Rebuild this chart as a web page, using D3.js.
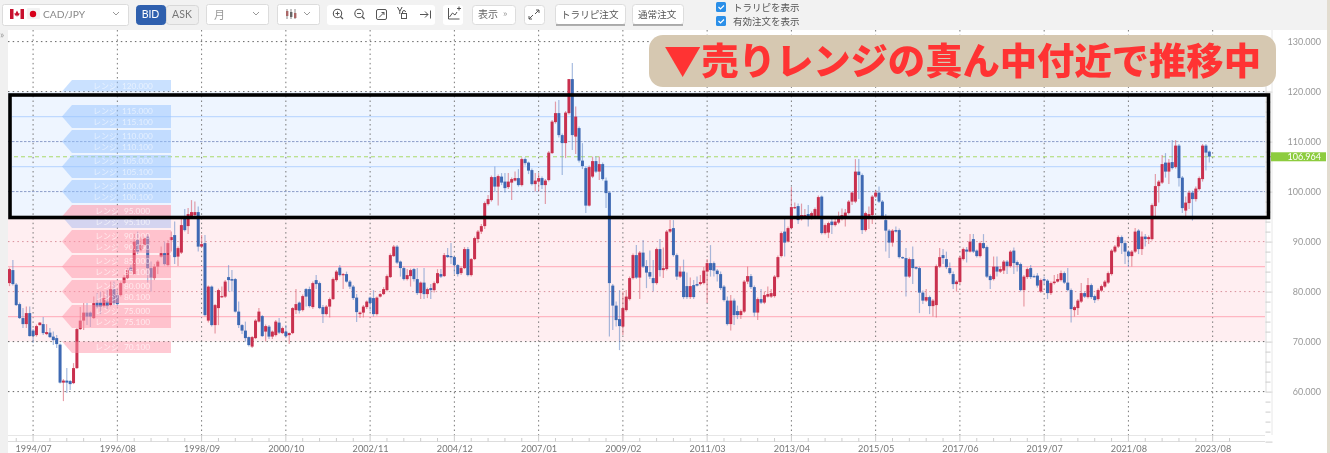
<!DOCTYPE html>
<html><head><meta charset="utf-8">
<script src="https://cdn.jsdelivr.net/npm/d3@7"></script>
<style>html,body{margin:0;padding:0;background:#fff;overflow:hidden}svg{display:block;filter:blur(.35px)}</style>
</head><body><svg id="c" width="1330" height="453"></svg>
<script>
const opens=[81.7,84.3,81.4,77.5,74.7,73.5,75.7,72.2,71.3,73.3,73.5,71.5,71.8,71,70.7,69.4,61.8,62.2,62.1,61.7,
64.7,72.5,74.2,75.8,75.8,74.7,77.8,77.8,77.1,78,77.3,80.5,79.3,79.3,81.7,82.7,84.8,83.5,90.3,88.3,
89.3,91,84.7,82.7,85,87,87.7,85.3,90.3,91.3,87,87.8,95,93.1,95,95.3,95.9,89,89.7,74.2,
81,73.3,76.7,78.9,79,82.9,82.5,82.5,76,73.3,72.2,70.9,69,70.7,74,75.1,72,73,71,71.3,
73.8,71.7,72,71.3,71.7,76.3,77.8,76.3,80.5,80.5,76.9,82.3,81.7,76.9,75.5,77,78.5,82.3,84.8,83.3,
83.5,82,81,78.8,75.5,75.8,76.9,78.8,78.7,75.5,79,79.5,80.3,82.9,87.1,89,86,84.7,82.5,83.1,
84.5,82.5,79.7,81.8,79.5,80.7,80.3,81.7,83.5,83.1,87.3,87.1,86.9,85.3,83.7,84.7,88.5,83.3,86.5,90.5,
92,93.1,97.5,98.3,102.9,101,103,102,100.9,101.8,102.2,102.7,101.3,106.5,105.8,104.3,101.5,102,102.7,101.3,
102.3,107.7,113.9,115.7,111.3,109.7,115.7,122.5,111,112.7,106.2,104.7,97.2,103,106.1,104,105.5,102.2,99.8,81.2,
77.2,74.5,73,76.3,78.5,82.7,87.3,82.8,87.8,85.1,83.9,82.7,81.7,88.5,84.3,84.5,92,92.7,87.3,83,
84,81.1,78.9,81.3,81.5,81.5,81.7,84,85.7,85.7,84.2,83.5,81,78.2,73.5,78.2,76.1,75.3,76,82,
83.1,80.9,75.8,78.5,77.8,79,79,79.1,82.9,87.1,92,90,92.7,96.7,97.1,94.5,94.9,95.5,94.7,95,
95,99,91.7,91.8,94,93.3,93.8,94.5,95,95.7,98,98,104,103.3,92.3,95,95.3,99,99.8,98,
94.3,92.2,89.8,92.3,92.3,86.9,86.7,83,86.5,84.9,84.7,79.8,78.2,78.9,77.1,77.3,85,87.3,86.5,84.7,
83.5,81.5,81.9,86.5,88.4,88,90.5,88.2,87.1,89.7,88.9,83.1,82.5,85,84,84.2,86,85.1,88.2,85.9,
85.5,80.3,82.9,84.7,83.1,83.2,80,82.5,82.2,79.7,81.7,82,82.3,83.7,81.8,80.3,76.3,76.7,78,79.7,
78.9,81.3,79.1,78.5,80.2,81,81.8,83.5,88,89,90.9,89.7,88,87.1,88,92.2,88.5,91,90.5,90.5,
97.1,101.1,101.8,105.8,104,105.9,104.9,109.2,102.8,96.2,97.7,99.8,98.5,100.5,102.5,109.2,108];
const highs=[84.8,86.3,81.7,77.8,76.7,77,77,72.5,73.4,73.9,74.9,73.5,72.7,72,71.3,69.6,62.5,64.7,62.3,65.7,
72.7,76.9,77.7,77.7,76,79,79.7,80,80,80.3,82,82,80.5,82,83.3,84.7,85.3,91.5,92,91,
91,91.5,86,85.5,86.3,89,90,90.3,92,94,89,95,96.5,96.7,98.3,98,97,91.3,91.3,81.2,
81.2,77.5,80.6,81,82.3,85.3,84.3,82.7,78,73.5,74,71,71.1,74.5,76.7,75.3,73.4,73.3,72.2,74.3,
74.7,73,73.3,71.8,76.9,80.5,78,79.4,80.7,81,82,83.3,82,77.3,77.3,78.8,82.8,84.3,85.3,83.7,
84,82.3,81.3,79.5,76,77.3,78.2,79,80.3,79,79.7,80.9,83.4,87.6,89.3,89.3,86.2,85,84.5,84.6,
84.7,84.7,82,84.7,80.8,81.5,82,84.5,84.5,87.7,88.7,89.7,87.1,85.5,85,88.9,88.9,86.7,91,92.3,
93.5,98,99.3,103.2,105,103.4,103.7,103.7,103.7,102.8,104,104.5,106.8,106.8,106,104.6,103.7,103.7,103,102.5,
108.1,114.3,118,118.3,111.6,116.1,122.5,125.7,117,113,109.7,105,105.2,107,107,107,105.8,102.8,100,81.5,
78,80.3,80,80.3,83,87.6,89.3,88.1,90.3,86.3,88.2,86.3,88.8,90.5,88.8,92.3,94.3,94.3,87.6,85,
86.4,83.8,82.8,82.3,83,83.3,84.9,86.5,89.3,86,84.5,84,81.3,79,79.3,78.6,77.2,76.4,82.3,85,
83.5,81.2,78.8,80.5,80,81,80.5,83.3,87.2,92,95,93,100.9,97.8,97.6,97.6,96.5,97.3,96,96.8,
99.2,99.2,93.6,94,95,95,96,96.6,96.5,98.3,100,106.5,106.5,103.6,96,97,99.3,100.3,101,98.3,
95.5,92.5,92.5,93,92.6,87,88.7,86.8,89,85,85,80.2,80.5,79.2,78.5,85.4,88.7,88.5,88,85.8,
84,82.3,87.1,88.8,88.9,91.5,91.5,88.4,90,91.5,89.2,83.4,87,87,85,86.3,86.3,88.3,88.8,86.2,
85.8,83.3,84.8,85.3,83.4,83.7,82.6,83,82.5,82,83.3,83.5,84.2,84,84.7,80.6,77.2,78.5,81.7,80,
82.7,81.6,79.4,80.6,81.4,82.3,84,88.5,89.3,91.2,91.2,90.2,88.3,88.3,92.7,92.5,92,91.5,91.2,97.6,
103.5,102.3,107.3,107.7,106.5,110.3,110.3,109.5,103.1,99,100.2,100.2,101,103,109.5,109.5,108.2];
const lows=[81.1,81.2,77.1,74.5,72.7,72.7,71,69.7,71,73.2,71.3,71.3,70.7,69.3,68.7,61.6,58.1,59.7,60.3,61.5,
64.5,72.3,72.3,73.3,72.9,74.5,76.5,75.5,76.8,76.5,77,77.3,77,79,81.5,82.5,84,83.3,87.5,88,
88.9,81.8,80,82.3,83.5,86.8,85.2,85,88,85.5,85.1,87.5,92,91.5,94.7,95,88,89,75,73.8,
73,71.6,73.3,78.7,78.7,80,80,75.8,72.7,71.5,70,69,68.7,70.5,73.8,70.9,70,70.5,70.5,71,
71.5,71.5,70.7,69.5,71.5,75.5,75.6,76,77,76.8,76.5,80.5,76.5,73.7,75.2,74.8,78.3,82,83,80.5,
81.8,80.5,78.3,73.9,74.7,74.8,76.5,76,75,75.2,78.8,79.3,80,82.7,86.9,85.5,83,82.2,82.2,81,
82,79.3,78.5,78.5,78.7,78.5,79.8,81.5,82.7,82.9,86.7,85.5,83.5,83,83.3,84.5,83,83,86.3,89.7,
91.5,92.5,97.2,98,100,97.2,101.3,99.8,100.5,98.3,102,101,101,105.2,103.5,101.2,100,100,100.5,97.5,
102,107.5,113.6,110.8,103.3,106.7,115.4,108.3,107.5,105.8,104.5,95.7,97,102.7,103.7,102.3,102.2,96.7,71,72.3,
73,68.3,71.3,76,78.2,82.4,82.5,78.5,84.7,80.7,82.5,80,81.4,83,82.7,84.2,91.7,87,82.3,82.7,
78.5,78.5,78.5,78.5,81,81.2,81.4,77.7,83,83,82,80.3,78,73.2,72.2,73.3,74.5,74.5,75.7,81.5,
80.5,75,74.3,77.5,77.5,78.8,78.7,78.8,82.6,86.8,87,89.8,92.4,96.5,93.5,94.2,94.5,93,94.4,94.7,
94.7,91.4,91.4,90.7,91.5,93,93.5,94.2,93,95.4,97.3,97.7,98.5,91.5,92,92.5,93.5,98.7,97.7,94.7,
88,86.7,89,91.8,86.6,86.5,79,82.7,81.5,84.4,75.7,77.5,77.9,75.5,75,74.8,84.7,85.5,84.5,83.4,
80.5,80,81.5,86.2,85.8,87.8,87.7,86.8,86.8,88.5,82.7,80.5,82.2,83,83.7,83.5,83.5,84.8,83.5,84,
80,77,82.5,82.5,82.8,80.8,79.7,81.5,78.5,79.3,81.4,81.8,82,81.5,80,73.8,75,75.3,77.7,78.7,
78.6,78.5,77.7,78.2,79.9,80.7,81.5,83.2,87.7,88.7,87.5,85.5,84.9,85,87.7,87.5,87.3,89,89.5,90.2,
95,97.8,101.5,102.8,101.5,104.4,104.6,101,95.7,95,96.5,94.2,98,100.2,102,104.2,105.8];
const closes=[84.5,81.5,77.3,74.7,73.5,75.7,71.1,71.1,73.1,73.8,71.7,71.9,70.9,70.3,69.5,61.8,62.2,61.8,61.5,64.7,
72.5,74.2,75.8,75,75,77.7,77,77,78.7,77.1,80.5,77.7,77.5,81.7,82.9,84.3,84.2,90,88,89.3,
90.7,84.7,82.8,85,86,87.7,85.5,89.7,90.9,86.9,88.7,93.3,92.3,95.5,95.9,95.9,89,89.5,75.3,81,
73.3,77.3,80.3,79.1,82,82.3,82.2,76,73.3,72.2,70.7,69.3,70.9,74.2,76,71.1,73.1,71,72,74,
71.8,72.7,71.1,71.7,76.7,77.5,76.2,79.1,79,77.1,81.7,81.5,76.7,75.5,77,78.5,82.5,84,83.3,83.5,
82,81,78.7,75.9,75.8,77,78,77.7,75.5,78.8,79.5,80.5,83.1,87.3,89,85.8,84.7,82.5,83.3,84.3,
82.5,79.7,81.8,79.5,80.5,80.3,81.7,83.7,83,87.3,86.9,86.9,85.3,83.5,84.7,88.5,83.3,86.5,90.7,92,
93.1,97.7,98.5,102.9,101,103.1,101.8,100.7,102,102.5,102.7,101.3,106.5,105.7,104.2,101.5,102.2,102.7,101.3,102.2,
107.8,114,115.7,111.3,109.7,115.8,122.5,111.3,115,106.2,105.1,97.2,104.9,106.1,104,105.5,102.5,99.7,81.7,77.2,
74.3,73.1,76.7,79,82.7,87.3,82.8,87.8,85,83.8,83,81.7,88.5,84.3,84.7,92,92.5,87.3,83,84,
78.9,78.9,81.1,78.9,81.2,81.9,84.2,85.7,84.3,84.2,83.5,80.7,78.3,73.5,78.2,75.3,75.3,76.1,82,83.1,
80.9,75.8,78.5,77.8,79.3,79.5,79.7,83,86.9,91.7,89.8,92.7,96.9,96.9,94.3,95.3,95.3,94.5,95.7,96.5,
98.9,91.7,93.3,93.7,93.3,94,94.7,95.3,95.8,98,99.8,104,103.3,92.3,95.7,95.5,99,99.8,98,95,
92.2,89.8,92.2,92,86.9,86.7,83,86.5,84.7,84.6,79.8,78.2,78.9,77.1,78.2,85.1,86.9,86.7,84.9,83.7,
81.5,82,86.8,88.5,88,90,88,87.1,89.7,88.7,83,82.3,85,84,84.5,86,85.1,88,85.7,85.3,
80.3,83,84.5,82.9,83,81.2,82.3,82.2,79.7,81.7,82,82.5,83.7,81.8,80.3,76.5,76.9,78.2,79.7,79,
81.3,78.9,78.3,80.3,81.1,82,83.7,88.2,89,90.9,89.7,88,87.1,88,92,88.5,91,90.5,90.9,97.3,
101.1,102,105.5,104,105.8,104.7,109.2,102.7,96.7,97.8,99.8,98.5,100.6,102.7,109.2,107.8,107];

const tickLabels=["1994/07","1996/08","1998/09","2000/10","2002/11","2004/12","2007/01","2009/02","2011/03","2013/04","2015/05","2017/06","2019/07","2021/08","2023/08"];
const tickBars=[7,32,57,82,107,132,157,182,207,232,257,282,307,332,357];
const priceTicks=[130,120,110,100,90,80,70,60];
const solidBlue=[115,105], solidPink=[85,75];
const blueTags=[["120.000"],["115.000","115.100"],["110.000","110.100"],["105.000","105.100"],["100.000","100.100"]];
const pinkTags=[["90.000","90.100"],["85.000","85.100"],["80.000","80.100"],["75.000","75.100"]];
const tagLevels={blue:[120,115,110,105,100],pink:[90,85,80,75]};
const lastPrice=106.964;
const title="▼売りレンジの真ん中付近で推移中";

const svg=d3.select("#c");
const LAT="Lato,'Noto Sans CJK JP',sans-serif", JP="'Noto Sans CJK JP',sans-serif";
const x=d3.scaleLinear().domain([0,356]).range([9.5,1209.3]);
const y=d3.scaleLinear().domain([130,60]).range([41.6,391.6]);
const L=8,R=1265,T=30,B=435;

// page furniture
svg.append("rect").attr("width",1330).attr("height",453).attr("fill","#fff");
svg.append("rect").attr("width",1330).attr("height",30).attr("fill","#f2f2f2");
svg.append("rect").attr("y",30).attr("width",8).attr("height",423).attr("fill","#f0f0f0");
svg.append("rect").attr("x",1327).attr("y",0).attr("width",3).attr("height",453).attr("fill","#e2dccf");
svg.append("text").attr("x",0).attr("y",38).attr("font-size",10).attr("fill","#999").attr("font-family",LAT).text("»");

// zones
svg.append("rect").attr("x",L).attr("y",y(120)).attr("width",R-L).attr("height",y(95)-y(120)).attr("fill","#eef5ff");
svg.append("rect").attr("x",L).attr("y",y(95)).attr("width",R-L).attr("height",y(70)-y(95)).attr("fill","#ffeef1");

// grid
const g=svg.append("g");
g.selectAll(".v").data(tickBars).join("line").attr("x1",d=>x(d)).attr("x2",d=>x(d)).attr("y1",T).attr("y2",B)
 .attr("stroke","#777").attr("stroke-dasharray","1.5 3.2").attr("stroke-width",1);
g.selectAll(".h").data(priceTicks).join("line").attr("x1",L).attr("x2",R).attr("y1",d=>y(d)).attr("y2",d=>y(d))
 .attr("stroke",d=>(d==110||d==100)?"#8a9cc8":(d==90||d==80)?"#d88f9a":"#666")
 .attr("stroke-dasharray",d=>(d==110||d==100)?"2.5 1.5":"1.5 3.2").attr("stroke-width",1);
g.selectAll(".b").data(solidBlue).join("line").attr("x1",12).attr("x2",R).attr("y1",d=>y(d)).attr("y2",d=>y(d)).attr("stroke","#bfd9ff").attr("stroke-width",1.2);
g.selectAll(".p").data(solidPink).join("line").attr("x1",L).attr("x2",R).attr("y1",d=>y(d)).attr("y2",d=>y(d)).attr("stroke","#ffb6c2").attr("stroke-width",1.2);
g.append("line").attr("x1",14).attr("x2",1272).attr("y1",y(lastPrice)).attr("y2",y(lastPrice)).attr("stroke","#a9d96a").attr("stroke-dasharray","4 3").attr("stroke-width",1);

// candles
const idx=d3.range(opens.length), up=i=>closes[i]>=opens[i];
const RED="#c9304e",BLUE="#3e69b3";
svg.append("g").selectAll("line").data(idx).join("line")
 .attr("x1",x).attr("x2",x).attr("y1",i=>y(highs[i])).attr("y2",i=>y(lows[i]))
 .attr("stroke",i=>up(i)?"#d9606f":"#6d8fc9").attr("stroke-opacity",.6).attr("stroke-width",1.2);
svg.append("g").selectAll("rect").data(idx).join("rect")
 .attr("x",i=>x(i)-1.5).attr("width",3)
 .attr("y",i=>y(Math.max(opens[i],closes[i])))
 .attr("height",i=>Math.max(1.2,Math.abs(y(opens[i])-y(closes[i]))))
 .attr("fill",i=>up(i)?RED:BLUE);

// range tags
const TL=62,TN=72,TR=171;
function tagText(v,ty,nx,vx,tc){
 svg.append("text").attr("x",nx).attr("y",ty).attr("font-size",8).attr("fill",tc).attr("font-family",JP).text("レンジ");
 svg.append("text").attr("x",vx).attr("y",ty).attr("font-size",8.3).attr("fill",tc).attr("font-family",LAT).text(v);
}
function tag(level,vals,fill,tc,vx){
 const c=y(level);
 const pts=vals.length==2
  ?[[TL,c],[TN,c-11.5],[TR,c-11.5],[TR,c+11.5],[TN,c+11.5]]
  :[[TL,c],[TN,c-11.5],[TR,c-11.5],[TR,c]];
 svg.append("polygon").attr("points",pts.join(" ")).attr("fill",fill);
 vals.forEach((v,k)=>tagText(v,c+(k==0?-5.8:5.8)+3,vx==122?93:95,vx,tc));
}
const BF="rgba(150,195,255,.5)",PF="rgba(255,150,170,.5)",BT="rgba(255,255,255,.55)",PT="rgba(255,255,255,.65)";
blueTags.forEach((v,k)=>tag(tagLevels.blue[k],v,BF,BT,122));
pinkTags.forEach((v,k)=>tag(tagLevels.pink[k],v,PF,PT,124));
svg.append("polygon").attr("points",[[TL,y(95)],[TN,y(95)-11.5],[TR,y(95)-11.5],[TR,y(95)]].join(" ")).attr("fill","rgba(255,140,160,.5)");
svg.append("polygon").attr("points",[[TL,y(95)],[TR,y(95)],[TR,y(95)+11.5],[TN,y(95)+11.5]].join(" ")).attr("fill","rgba(170,185,240,.5)");
[["95.000",-5.8],["95.100",5.8]].forEach(([v,d])=>tagText(v,y(95)+d+3,95,124,PT));
svg.append("polygon").attr("points",[[TL,y(70)],[TR,y(70)],[TR,y(70)+11.5],[TN,y(70)+11.5]].join(" ")).attr("fill",PF);
tagText("70.100",y(70)+8.8,95,124,PT);

// axes
const yAxis=d3.axisRight(y).tickValues(d3.range(50,132,2)).tickSize(0).tickFormat("");
const ya=svg.append("g").attr("transform",`translate(1265.5,0)`).call(yAxis);
ya.select(".domain").attr("stroke","#ddd");
ya.selectAll("line").attr("x2",d=>d%10==0?7:5).attr("stroke","#ccc");
svg.append("line").attr("x1",1272).attr("x2",1272).attr("y1",T).attr("y2",B).attr("stroke","#e8e8e8");
svg.append("g").selectAll("text").data(priceTicks).join("text")
 .attr("x",1321).attr("y",d=>y(d)+3.2).attr("text-anchor","end").attr("font-size",9).attr("fill","#999").attr("font-family",LAT).text(d=>d.toFixed(3));
svg.append("line").attr("x1",L).attr("x2",R).attr("y1",435.5).attr("y2",435.5).attr("stroke","#e6e6e6");

const xAxis=d3.axisBottom(x).tickValues(tickBars).tickSize(0).tickFormat((d,i)=>tickLabels[i]);
const xa=svg.append("g").attr("transform","translate(0,441.5)").call(xAxis);
xa.select(".domain").remove();
xa.selectAll("text").attr("y",3.5).attr("dy",".71em").attr("font-size",9.2).attr("fill","#777").attr("font-family",LAT);
svg.append("line").attr("x1",L).attr("x2",1265).attr("y1",441.5).attr("y2",441.5).attr("stroke","#ddd");
svg.append("g").selectAll("line").data(d3.range(2,366,5)).join("line").attr("x1",x).attr("x2",x).attr("y1",d=>(d-7)%25==0?435:438).attr("y2",441.5).attr("stroke","#ccc")
 .filter(d=>x(d)>1264).remove();

// frame
svg.append("rect").attr("x",10).attr("y",95).attr("width",1258.5).attr("height",122.5).attr("fill","none").attr("stroke","#000").attr("stroke-width",3.6);

// banner
svg.append("rect").attr("x",649).attr("y",35).attr("width",627).attr("height",52).attr("rx",14).attr("fill","#d6c8b1");
svg.append("text").attr("x",664).attr("y",75).attr("font-size",37).attr("font-weight",900).attr("fill","#ff3333").attr("font-family",JP).attr("textLength",597).attr("lengthAdjust","spacingAndGlyphs").text(title);

// last price tag
svg.append("rect").attr("x",1271).attr("y",y(lastPrice)-4.5).attr("width",55).attr("height",9).attr("fill","#8dcc3f");
svg.append("text").attr("x",1321).attr("y",y(lastPrice)+3.2).attr("text-anchor","end").attr("font-size",9).attr("fill","#fff").attr("font-family",LAT).text(lastPrice.toFixed(3));

// toolbar
function box(x0,y0,w,h,fill="#fff",st="#dcdcdc",r=2){return svg.append("rect").attr("x",x0+.5).attr("y",y0+.5).attr("width",w).attr("height",h).attr("rx",r).attr("fill",fill).attr("stroke",st);}
function label(t,x0,y0,s=11,c="#777",a="start",f=JP){return svg.append("text").attr("x",x0).attr("y",y0).attr("font-size",s).attr("fill",c).attr("text-anchor",a).attr("font-family",f).text(t);}
function chev(cx,cy){svg.append("path").attr("d",`M${cx-3} ${cy-2}L${cx} ${cy+1}L${cx+3} ${cy-2}`).attr("fill","none").attr("stroke","#999");}
box(2,4,126,21); 
svg.append("rect").attr("x",10).attr("y",9).attr("width",14).attr("height",10).attr("fill","#fff");
svg.append("rect").attr("x",10).attr("y",9).attr("width",3.5).attr("height",10).attr("fill","#c8102e");
svg.append("rect").attr("x",20.5).attr("y",9).attr("width",3.5).attr("height",10).attr("fill","#c8102e");
svg.append("path").attr("d","M17 10.5l1.6 3 1-.5-.6 2.6h-1.6v1h-.8v-1h-1.6l-.6-2.6 1 .5z").attr("fill","#c8102e");
svg.append("rect").attr("x",27).attr("y",8).attr("width",13).attr("height",11).attr("rx",1).attr("fill","#f3f3f3");
svg.append("circle").attr("cx",33).attr("cy",14).attr("r",3.2).attr("fill","#d7001a");
label("CAD/JPY",43,18,10.2,"#888","start",LAT);
chev(116,14);
box(136,5,29,19,"#2f60ae","#2f60ae",3); label("BID",150.5,18,10.5,"#fff","middle",LAT);
box(166,5,32,19,"#eeeeee","#d8d8d8",3); label("ASK",182,18,10.5,"#777","middle",LAT);
box(206,4,62,20); label("月",214,18.5,11,"#999"); chev(256,14);
box(277,4,42,20);
[287,291,295].forEach((cx,k)=>{svg.append("line").attr("x1",cx).attr("x2",cx).attr("y1",9).attr("y2",19).attr("stroke","#888");
 svg.append("rect").attr("x",cx-1).attr("y",11+k).attr("width",2.4).attr("height",5).attr("fill",k==1?"#666":"#a66");});
chev(307,14);
svg.append("rect").attr("x",327).attr("y",5).attr("width",108).attr("height",20).attr("rx",3).attr("fill","#fff");
const ic="#555";
function mag(cx,plus){svg.append("circle").attr("cx",cx).attr("cy",13.5).attr("r",4.2).attr("fill","none").attr("stroke",ic).attr("stroke-width",1.1);
 svg.append("line").attr("x1",cx+3).attr("y1",16.5).attr("x2",cx+5.5).attr("y2",19).attr("stroke",ic).attr("stroke-width",1.2);
 svg.append("path").attr("d",plus?`M${cx-2} 13.5H${cx+2}M${cx} 11.5V15.5`:`M${cx-2} 13.5H${cx+2}`).attr("stroke",ic);}
mag(337.5,true);mag(359,false);
svg.append("rect").attr("x",376.5).attr("y",9.5).attr("width",10).attr("height",10).attr("rx",1.5).attr("fill","none").attr("stroke",ic);
svg.append("path").attr("d","M379 17.5l5-5M384 15V12.500h-2.500").attr("fill","none").attr("stroke",ic);
label("Y",397,14,9,"#333","start",LAT);
svg.append("rect").attr("x",401.5).attr("y",13.500).attr("width",5).attr("height",5).attr("fill","none").attr("stroke",ic);
svg.append("path").attr("d","M402.500 13.500v-1.500a1.500 1.500 0 0 1 3 0").attr("fill","none").attr("stroke",ic);
svg.append("path").attr("d","M420 14.500h8M425 11.500l3 3-3 3M430.500 10.500v8").attr("fill","none").attr("stroke",ic);
svg.append("rect").attr("x",443).attr("y",5).attr("width",20).attr("height",20).attr("rx",3).attr("fill","#fff");
svg.append("path").attr("d","M448.500 8v11h11M449.500 17l3-4 2.500 2 2-3").attr("fill","none").attr("stroke",ic);
svg.append("path").attr("d","M457 8.500h4M459 6.500v4").attr("stroke",ic);
box(472,5,43,19,"#fff","#ddd",3); label("表示",478,18,10,"#666"); label("»",503,17,9,"#999");
box(524,5,20,19,"#fff","#ddd",3);
svg.append("path").attr("d","M529 19l4-4M529 16v3h3M539 10l-4 4M536 10h3v3").attr("fill","none").attr("stroke",ic);
box(555,4,70,20,"#fff","#ddd",3); svg.append("line").attr("x1",556).attr("x2",625).attr("y1",25).attr("y2",25).attr("stroke","#999").attr("stroke-width",1.5);
label("トラリピ注文",561,18,9.6,"#555");
box(632,4,51,20,"#fff","#ddd",3); svg.append("line").attr("x1",633).attr("x2",683).attr("y1",25).attr("y2",25).attr("stroke","#999").attr("stroke-width",1.5);
label("通常注文",638,18,9.6,"#555");
[[2,"トラリピを表示",11],[16,"有効注文を表示",25]].forEach(([yy,t,ty])=>{
 svg.append("rect").attr("x",716).attr("y",yy).attr("width",10).attr("height",10).attr("rx",1.5).attr("fill","#2b8fe8");
 svg.append("path").attr("d",`M718.500 ${yy+5}l2 2 3.500-3.500`).attr("fill","none").attr("stroke","#fff").attr("stroke-width",1.2);
 label(t,733,ty,9.5,"#555");
});
</script></body></html>
